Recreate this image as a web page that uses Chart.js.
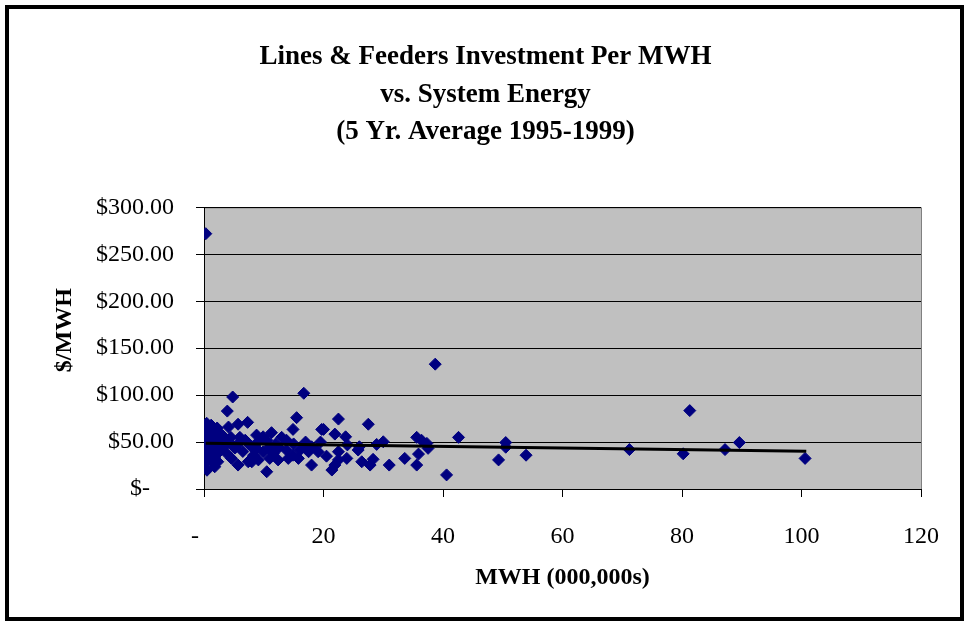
<!DOCTYPE html>
<html>
<head>
<meta charset="utf-8">
<script src="https://cdn.jsdelivr.net/npm/chart.js@4.4.1/dist/chart.umd.min.js"></script>
<style>
	html, body { margin: 0; padding: 0; background: #fff; }
	#wrap { width: 969px; height: 626px; }
</style>
</head>
<body>
<div id="wrap"><canvas id="myScatter" width="969" height="626"></canvas></div>
<script>
// 시스템 에너지 (MWH, 000,000s)
const energyMWh = [
	0.3, 38.7, 81.3, 16.7, 4.8, 3.9, 15.5, 22.5, 27.5, 42.6, 40.6, 50.5, 50.5, 49.3, 53.9, 71.2,
	80.2, 87.2, 89.6, 100.6, 35.6, 36.4, 37.3, 37.5, 35.9, 35.6, 33.6, 31.0, 28.3, 28.9, 30.0,
	20.0, 21.9, 23.7, 16.9, 19.1, 20.5, 22.5, 23.9, 25.8, 18.0, 21.4, 21.9, 22.5, 26.4, 27.8, 17.5,
	14.9, 11.3, 13.8, 8.8, 9.9, 8.3, 9.9, 11.6, 10.5, 12.4, 14.1, 14.9, 16.1, 13.8, 15.8, 11.0, 9.1, 8.0,
	0.45, 4.1, 5.7, 7.3, 5.2, 4.6, 5.7, 7.4, 0.5, 1.8, 6.9, 8.0,
	0.4, 0.6, 0.8, 1.0, 1.3, 1.6, 2.0, 2.4, 2.8, 3.2, 0.5, 0.7, 1.1, 1.5, 0.4, 0.9, 1.4, 2.1, 2.6,
	3.0, 3.5, 0.6, 1.2, 0.3, 1.8, 2.3, 3.8, 4.2, 1.9, 2.5, 3.1, 1.2, 2.2, 0.3, 0.3, 0.4, 3.4, 4.5,
	9.0, 10.5, 12.0, 13.0, 11.0, 7.5, 6.0, 8.8, 6.5, 5.5, 12.5, 15.0, 18.0, 17.0, 19.5, 24.0, 26.0,
	19.7
];
// 투자액 ($/MWH)
const investPerMWh = [
	272, 133, 83.5, 102, 98, 83, 76, 74.5, 69, 55, 15, 49.5, 44.5, 31, 36, 42,
	37.5, 42, 49.5, 32.6, 55, 52, 48.6, 43.3, 37.2, 25.5, 32.6, 25.5, 31.6, 47.5, 50.3,
	63.5, 58.5, 55.6, 46.8, 39.7, 35, 39.7, 32.6, 41.5, 25.5, 20.2, 25.5, 31, 29, 25.5, 39.7,
	63.5, 60, 52, 57.4, 55.6, 36, 39.7, 38, 18.4, 31, 32.6, 36, 41.5, 41.5, 32.6, 32.6, 31, 29,
	70, 66, 69, 71, 43.6, 32.6, 25.5, 29, 20, 23.7, 52, 45,
	66, 60, 55, 62, 58, 52, 56, 50, 53, 48, 50, 45, 47, 44, 40, 38, 36, 42, 40,
	44, 46, 34, 30, 28, 33, 29, 38, 50, 62, 60, 57, 68, 65, 57, 47, 36, 53, 55,
	50, 52, 48, 55, 45, 48, 55, 43, 40, 47, 44, 48, 45, 50, 50, 47, 45,
	63.5
];
// 추세선 양 끝점
const trendX = [0.3, 100.8];
const trendY = [48.8, 40.3];

// 축 눈금 레이블 (회계 서식처럼 "-" 뒤에 공백)
const xTickLabels = ['-   ', '20', '40', '60', '80', '100', '120'];
const yTickLabels = ['$-    ', '$50.00', '$100.00', '$150.00', '$200.00', '$250.00', '$300.00'];

const titleLines = ['Lines & Feeders Investment Per MWH', 'vs. System Energy', '(5 Yr. Average 1995-1999)'];

const scatterPoints = energyMWh.map(function(x, i) { return { x: x, y: investPerMWh[i] }; });
const trendPoints = trendX.map(function(x, i) { return { x: x, y: trendY[i] }; });

// 플롯 영역 배경 + 바깥 테두리
const framePlugin = {
	id: 'frame',
	beforeDraw: function(chart) {
		const ctx = chart.ctx;
		const a = chart.chartArea;
		ctx.save();
		ctx.fillStyle = '#ffffff';
		ctx.fillRect(0, 0, chart.width, chart.height);
		ctx.fillStyle = '#c0c0c0';
		ctx.fillRect(a.left, a.top, a.right - a.left, a.bottom - a.top);
		ctx.strokeStyle = '#808080';
		ctx.lineWidth = 1;
		ctx.strokeRect(a.left + 0.5, a.top + 0.5, a.right - a.left, a.bottom - a.top);
		ctx.restore();
	},
	afterDraw: function(chart) {
		const ctx = chart.ctx;
		ctx.save();
		ctx.strokeStyle = '#000000';
		ctx.lineWidth = 4;
		ctx.strokeRect(7, 7, chart.width - 14, chart.height - 14);
		ctx.restore();
	}
};

const serif = "'Liberation Serif', 'Times New Roman', serif";

const ctx = document.getElementById('myScatter').getContext('2d');
new Chart(ctx, {
	type: 'scatter',
	data: {
		datasets: [
			{
				type: 'line',
				label: 'Trend',
				data: trendPoints,
				borderColor: '#000000',
				borderWidth: 3,
				pointRadius: 0,
				fill: false,
				order: 0
			},
			{
				label: '$/MWH',
				data: scatterPoints,
				pointStyle: 'rectRot',
				pointRadius: 6,
				backgroundColor: '#000080',
				borderColor: '#000080',
				borderWidth: 1,
				order: 1
			}
		]
	},
	options: {
		responsive: false,
		animation: false,
		layout: { padding: { left: 50, right: 48, top: 0, bottom: 30 } },
		scales: {
			x: {
				type: 'linear',
				min: 0,
				max: 120,
				afterFit: function(scale) { scale.height = 107; },
				ticks: {
					stepSize: 20,
					color: '#000000',
					padding: 25,
					font: { family: serif, size: 24 },
					callback: function(value) { return xTickLabels[Math.round(value / 20)]; }
				},
				grid: {
					drawOnChartArea: false,
					tickLength: 8,
					tickColor: '#000000'
				},
				border: { color: '#000000', width: 1 },
				title: {
					display: true,
					text: 'MWH (000,000s)',
					color: '#000000',
					padding: { top: 0, bottom: 4 },
					font: { family: serif, size: 24, weight: 'bold' }
				}
			},
			y: {
				min: 0,
				max: 300,
				afterFit: function(scale) { scale.width = 154; },
				ticks: {
					stepSize: 50,
					color: '#000000',
					padding: 22,
					font: { family: serif, size: 24 },
					callback: function(value) { return yTickLabels[Math.round(value / 50)]; }
				},
				grid: {
					color: '#000000',
					lineWidth: 1,
					tickLength: 8,
					tickColor: '#000000'
				},
				border: { color: '#000000', width: 1 },
				title: {
					display: true,
					text: '      $/MWH',
					color: '#000000',
					padding: { top: 0, bottom: 0 },
					font: { family: serif, size: 24, weight: 'bold' }
				}
			}
		},
		plugins: {
			legend: { display: false },
			tooltip: { enabled: false },
			title: {
				display: true,
				text: titleLines,
				color: '#000000',
				padding: { top: 38, bottom: 56 },
				font: { family: serif, size: 27, weight: 'bold', lineHeight: 1.4 }
			}
		}
	},
	plugins: [framePlugin]
});
</script>
</body>
</html>
